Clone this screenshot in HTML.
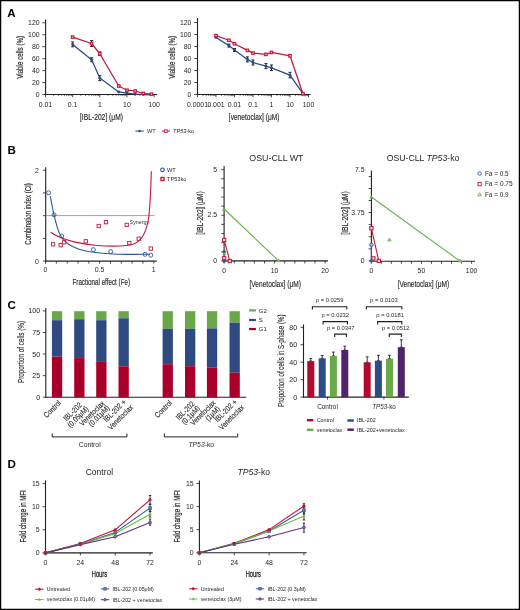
<!DOCTYPE html>
<html><head><meta charset="utf-8"><style>
html,body{margin:0;padding:0;background:#fff;}
svg{display:block;will-change:transform;}
text{font-family:"Liberation Sans",sans-serif;}
</style></head><body>
<svg width="520" height="610" viewBox="0 0 520 610">
<rect x="0.6" y="0.6" width="518.8" height="608.8" fill="#fff" stroke="#000" stroke-width="1.3"/>
<text x="7.30" y="17.40" font-size="11.6" text-anchor="start" fill="#000" font-weight="bold">A</text>
<text x="7.40" y="154.40" font-size="11.6" text-anchor="start" fill="#000" font-weight="bold">B</text>
<text x="7.50" y="308.70" font-size="11.6" text-anchor="start" fill="#000" font-weight="bold">C</text>
<text x="7.40" y="467.80" font-size="11.6" text-anchor="start" fill="#000" font-weight="bold">D</text>
<line x1="45.60" y1="19.40" x2="45.60" y2="95.00" stroke="#231f20" stroke-width="1.1" />
<line x1="45.10" y1="94.50" x2="157.00" y2="94.50" stroke="#231f20" stroke-width="1.1" />
<line x1="42.30" y1="94.50" x2="45.60" y2="94.50" stroke="#231f20" stroke-width="0.8" />
<text x="39.60" y="96.95" font-size="6.9" text-anchor="end" fill="#231f20">0</text>
<line x1="42.30" y1="82.55" x2="45.60" y2="82.55" stroke="#231f20" stroke-width="0.8" />
<text x="39.60" y="85.00" font-size="6.9" text-anchor="end" fill="#231f20">20</text>
<line x1="42.30" y1="70.60" x2="45.60" y2="70.60" stroke="#231f20" stroke-width="0.8" />
<text x="39.60" y="73.05" font-size="6.9" text-anchor="end" fill="#231f20">40</text>
<line x1="42.30" y1="58.65" x2="45.60" y2="58.65" stroke="#231f20" stroke-width="0.8" />
<text x="39.60" y="61.10" font-size="6.9" text-anchor="end" fill="#231f20">60</text>
<line x1="42.30" y1="46.70" x2="45.60" y2="46.70" stroke="#231f20" stroke-width="0.8" />
<text x="39.60" y="49.15" font-size="6.9" text-anchor="end" fill="#231f20">80</text>
<line x1="42.30" y1="34.75" x2="45.60" y2="34.75" stroke="#231f20" stroke-width="0.8" />
<text x="39.60" y="37.20" font-size="6.9" text-anchor="end" fill="#231f20">100</text>
<line x1="42.30" y1="22.80" x2="45.60" y2="22.80" stroke="#231f20" stroke-width="0.8" />
<text x="39.60" y="25.25" font-size="6.9" text-anchor="end" fill="#231f20">120</text>
<line x1="45.50" y1="94.50" x2="45.50" y2="97.30" stroke="#231f20" stroke-width="0.8" />
<text x="45.50" y="106.60" font-size="6.9" text-anchor="middle" fill="#231f20">0.01</text>
<line x1="53.67" y1="94.50" x2="53.67" y2="96.10" stroke="#231f20" stroke-width="0.6" />
<line x1="58.45" y1="94.50" x2="58.45" y2="96.10" stroke="#231f20" stroke-width="0.6" />
<line x1="61.85" y1="94.50" x2="61.85" y2="96.10" stroke="#231f20" stroke-width="0.6" />
<line x1="64.48" y1="94.50" x2="64.48" y2="96.10" stroke="#231f20" stroke-width="0.6" />
<line x1="66.63" y1="94.50" x2="66.63" y2="96.10" stroke="#231f20" stroke-width="0.6" />
<line x1="68.44" y1="94.50" x2="68.44" y2="96.10" stroke="#231f20" stroke-width="0.6" />
<line x1="70.02" y1="94.50" x2="70.02" y2="96.10" stroke="#231f20" stroke-width="0.6" />
<line x1="71.41" y1="94.50" x2="71.41" y2="96.10" stroke="#231f20" stroke-width="0.6" />
<line x1="72.65" y1="94.50" x2="72.65" y2="97.30" stroke="#231f20" stroke-width="0.8" />
<text x="72.65" y="106.60" font-size="6.9" text-anchor="middle" fill="#231f20">0.1</text>
<line x1="80.82" y1="94.50" x2="80.82" y2="96.10" stroke="#231f20" stroke-width="0.6" />
<line x1="85.60" y1="94.50" x2="85.60" y2="96.10" stroke="#231f20" stroke-width="0.6" />
<line x1="89.00" y1="94.50" x2="89.00" y2="96.10" stroke="#231f20" stroke-width="0.6" />
<line x1="91.63" y1="94.50" x2="91.63" y2="96.10" stroke="#231f20" stroke-width="0.6" />
<line x1="93.78" y1="94.50" x2="93.78" y2="96.10" stroke="#231f20" stroke-width="0.6" />
<line x1="95.59" y1="94.50" x2="95.59" y2="96.10" stroke="#231f20" stroke-width="0.6" />
<line x1="97.17" y1="94.50" x2="97.17" y2="96.10" stroke="#231f20" stroke-width="0.6" />
<line x1="98.56" y1="94.50" x2="98.56" y2="96.10" stroke="#231f20" stroke-width="0.6" />
<line x1="99.80" y1="94.50" x2="99.80" y2="97.30" stroke="#231f20" stroke-width="0.8" />
<text x="99.80" y="106.60" font-size="6.9" text-anchor="middle" fill="#231f20">1</text>
<line x1="107.97" y1="94.50" x2="107.97" y2="96.10" stroke="#231f20" stroke-width="0.6" />
<line x1="112.75" y1="94.50" x2="112.75" y2="96.10" stroke="#231f20" stroke-width="0.6" />
<line x1="116.15" y1="94.50" x2="116.15" y2="96.10" stroke="#231f20" stroke-width="0.6" />
<line x1="118.78" y1="94.50" x2="118.78" y2="96.10" stroke="#231f20" stroke-width="0.6" />
<line x1="120.93" y1="94.50" x2="120.93" y2="96.10" stroke="#231f20" stroke-width="0.6" />
<line x1="122.74" y1="94.50" x2="122.74" y2="96.10" stroke="#231f20" stroke-width="0.6" />
<line x1="124.32" y1="94.50" x2="124.32" y2="96.10" stroke="#231f20" stroke-width="0.6" />
<line x1="125.71" y1="94.50" x2="125.71" y2="96.10" stroke="#231f20" stroke-width="0.6" />
<line x1="126.95" y1="94.50" x2="126.95" y2="97.30" stroke="#231f20" stroke-width="0.8" />
<text x="126.95" y="106.60" font-size="6.9" text-anchor="middle" fill="#231f20">10</text>
<line x1="135.12" y1="94.50" x2="135.12" y2="96.10" stroke="#231f20" stroke-width="0.6" />
<line x1="139.90" y1="94.50" x2="139.90" y2="96.10" stroke="#231f20" stroke-width="0.6" />
<line x1="143.30" y1="94.50" x2="143.30" y2="96.10" stroke="#231f20" stroke-width="0.6" />
<line x1="145.93" y1="94.50" x2="145.93" y2="96.10" stroke="#231f20" stroke-width="0.6" />
<line x1="148.08" y1="94.50" x2="148.08" y2="96.10" stroke="#231f20" stroke-width="0.6" />
<line x1="149.89" y1="94.50" x2="149.89" y2="96.10" stroke="#231f20" stroke-width="0.6" />
<line x1="151.47" y1="94.50" x2="151.47" y2="96.10" stroke="#231f20" stroke-width="0.6" />
<line x1="152.86" y1="94.50" x2="152.86" y2="96.10" stroke="#231f20" stroke-width="0.6" />
<line x1="154.10" y1="94.50" x2="154.10" y2="97.30" stroke="#231f20" stroke-width="0.8" />
<text x="154.10" y="106.60" font-size="6.9" text-anchor="middle" fill="#231f20">100</text>
<text x="101.50" y="119.50" font-size="9" text-anchor="middle" fill="#231f20" stroke="#231f20" stroke-width="0.15" textLength="43" lengthAdjust="spacingAndGlyphs">[IBL-202] (&#956;M)</text>
<text x="23.40" y="57.30" font-size="9" text-anchor="middle" fill="#231f20" stroke="#231f20" stroke-width="0.15" textLength="43" lengthAdjust="spacingAndGlyphs" transform="rotate(-90 23.40 57.30)">Viable cells (%)</text>
<line x1="72.65" y1="42.00" x2="72.65" y2="46.80" stroke="#231f20" stroke-width="1.0" />
<line x1="71.15" y1="42.00" x2="74.15" y2="42.00" stroke="#231f20" stroke-width="1.0" />
<line x1="71.15" y1="46.80" x2="74.15" y2="46.80" stroke="#231f20" stroke-width="1.0" />
<line x1="91.63" y1="57.75" x2="91.63" y2="61.75" stroke="#231f20" stroke-width="1.0" />
<line x1="90.13" y1="57.75" x2="93.13" y2="57.75" stroke="#231f20" stroke-width="1.0" />
<line x1="90.13" y1="61.75" x2="93.13" y2="61.75" stroke="#231f20" stroke-width="1.0" />
<line x1="99.80" y1="75.60" x2="99.80" y2="80.60" stroke="#231f20" stroke-width="1.0" />
<line x1="98.30" y1="75.60" x2="101.30" y2="75.60" stroke="#231f20" stroke-width="1.0" />
<line x1="98.30" y1="80.60" x2="101.30" y2="80.60" stroke="#231f20" stroke-width="1.0" />
<line x1="91.63" y1="40.50" x2="91.63" y2="46.50" stroke="#231f20" stroke-width="1.0" />
<line x1="90.13" y1="40.50" x2="93.13" y2="40.50" stroke="#231f20" stroke-width="1.0" />
<line x1="90.13" y1="46.50" x2="93.13" y2="46.50" stroke="#231f20" stroke-width="1.0" />
<line x1="99.80" y1="51.95" x2="99.80" y2="55.55" stroke="#231f20" stroke-width="1.0" />
<line x1="98.30" y1="51.95" x2="101.30" y2="51.95" stroke="#231f20" stroke-width="1.0" />
<line x1="98.30" y1="55.55" x2="101.30" y2="55.55" stroke="#231f20" stroke-width="1.0" />
<polyline points="72.65,44.40 91.63,59.75 99.80,78.10 118.78,91.90 126.95,93.10 135.12,94.00 143.30,94.30 151.47,94.40" fill="none" stroke="#2a4a8c" stroke-width="1.25" stroke-linejoin="round"/>
<polyline points="72.65,37.10 91.63,43.50 99.80,53.75 118.78,86.00 126.95,90.20 135.12,91.00 143.30,93.40 151.47,94.20" fill="none" stroke="#c4173b" stroke-width="1.25" stroke-linejoin="round"/>
<circle cx="72.65" cy="44.40" r="1.2" fill="#2a4a8c" stroke="#2a4a8c" stroke-width="0.6"/>
<circle cx="91.63" cy="59.75" r="1.2" fill="#2a4a8c" stroke="#2a4a8c" stroke-width="0.6"/>
<circle cx="99.80" cy="78.10" r="1.2" fill="#2a4a8c" stroke="#2a4a8c" stroke-width="0.6"/>
<circle cx="118.78" cy="91.90" r="1.2" fill="#2a4a8c" stroke="#2a4a8c" stroke-width="0.6"/>
<circle cx="126.95" cy="93.10" r="1.2" fill="#2a4a8c" stroke="#2a4a8c" stroke-width="0.6"/>
<circle cx="135.12" cy="94.00" r="1.2" fill="#2a4a8c" stroke="#2a4a8c" stroke-width="0.6"/>
<circle cx="143.30" cy="94.30" r="1.2" fill="#2a4a8c" stroke="#2a4a8c" stroke-width="0.6"/>
<circle cx="151.47" cy="94.40" r="1.2" fill="#2a4a8c" stroke="#2a4a8c" stroke-width="0.6"/>
<rect x="71.40" y="35.85" width="2.5" height="2.5" fill="#f4c8d0" stroke="#c4173b" stroke-width="1.15"/>
<rect x="90.38" y="42.25" width="2.5" height="2.5" fill="#f4c8d0" stroke="#c4173b" stroke-width="1.15"/>
<rect x="98.55" y="52.50" width="2.5" height="2.5" fill="#f4c8d0" stroke="#c4173b" stroke-width="1.15"/>
<rect x="117.53" y="84.75" width="2.5" height="2.5" fill="#f4c8d0" stroke="#c4173b" stroke-width="1.15"/>
<rect x="125.70" y="88.95" width="2.5" height="2.5" fill="#f4c8d0" stroke="#c4173b" stroke-width="1.15"/>
<rect x="133.87" y="89.75" width="2.5" height="2.5" fill="#f4c8d0" stroke="#c4173b" stroke-width="1.15"/>
<rect x="142.05" y="92.15" width="2.5" height="2.5" fill="#f4c8d0" stroke="#c4173b" stroke-width="1.15"/>
<rect x="150.22" y="92.95" width="2.5" height="2.5" fill="#f4c8d0" stroke="#c4173b" stroke-width="1.15"/>
<line x1="197.50" y1="18.00" x2="197.50" y2="95.00" stroke="#231f20" stroke-width="1.1" />
<line x1="197.00" y1="94.50" x2="310.60" y2="94.50" stroke="#231f20" stroke-width="1.1" />
<line x1="194.20" y1="94.50" x2="197.50" y2="94.50" stroke="#231f20" stroke-width="0.8" />
<text x="191.40" y="96.95" font-size="6.9" text-anchor="end" fill="#231f20">0</text>
<line x1="194.20" y1="82.50" x2="197.50" y2="82.50" stroke="#231f20" stroke-width="0.8" />
<text x="191.40" y="84.95" font-size="6.9" text-anchor="end" fill="#231f20">20</text>
<line x1="194.20" y1="70.50" x2="197.50" y2="70.50" stroke="#231f20" stroke-width="0.8" />
<text x="191.40" y="72.95" font-size="6.9" text-anchor="end" fill="#231f20">40</text>
<line x1="194.20" y1="58.50" x2="197.50" y2="58.50" stroke="#231f20" stroke-width="0.8" />
<text x="191.40" y="60.95" font-size="6.9" text-anchor="end" fill="#231f20">60</text>
<line x1="194.20" y1="46.50" x2="197.50" y2="46.50" stroke="#231f20" stroke-width="0.8" />
<text x="191.40" y="48.95" font-size="6.9" text-anchor="end" fill="#231f20">80</text>
<line x1="194.20" y1="34.50" x2="197.50" y2="34.50" stroke="#231f20" stroke-width="0.8" />
<text x="191.40" y="36.95" font-size="6.9" text-anchor="end" fill="#231f20">100</text>
<line x1="194.20" y1="22.50" x2="197.50" y2="22.50" stroke="#231f20" stroke-width="0.8" />
<text x="191.40" y="24.95" font-size="6.9" text-anchor="end" fill="#231f20">120</text>
<line x1="197.50" y1="94.50" x2="197.50" y2="97.30" stroke="#231f20" stroke-width="0.8" />
<text x="197.50" y="106.60" font-size="6.9" text-anchor="middle" fill="#231f20">0.0001</text>
<line x1="203.07" y1="94.50" x2="203.07" y2="96.10" stroke="#231f20" stroke-width="0.6" />
<line x1="206.33" y1="94.50" x2="206.33" y2="96.10" stroke="#231f20" stroke-width="0.6" />
<line x1="208.64" y1="94.50" x2="208.64" y2="96.10" stroke="#231f20" stroke-width="0.6" />
<line x1="210.43" y1="94.50" x2="210.43" y2="96.10" stroke="#231f20" stroke-width="0.6" />
<line x1="211.90" y1="94.50" x2="211.90" y2="96.10" stroke="#231f20" stroke-width="0.6" />
<line x1="213.13" y1="94.50" x2="213.13" y2="96.10" stroke="#231f20" stroke-width="0.6" />
<line x1="214.21" y1="94.50" x2="214.21" y2="96.10" stroke="#231f20" stroke-width="0.6" />
<line x1="215.15" y1="94.50" x2="215.15" y2="96.10" stroke="#231f20" stroke-width="0.6" />
<line x1="216.00" y1="94.50" x2="216.00" y2="97.30" stroke="#231f20" stroke-width="0.8" />
<text x="216.00" y="106.60" font-size="6.9" text-anchor="middle" fill="#231f20">0.001</text>
<line x1="221.57" y1="94.50" x2="221.57" y2="96.10" stroke="#231f20" stroke-width="0.6" />
<line x1="224.83" y1="94.50" x2="224.83" y2="96.10" stroke="#231f20" stroke-width="0.6" />
<line x1="227.14" y1="94.50" x2="227.14" y2="96.10" stroke="#231f20" stroke-width="0.6" />
<line x1="228.93" y1="94.50" x2="228.93" y2="96.10" stroke="#231f20" stroke-width="0.6" />
<line x1="230.40" y1="94.50" x2="230.40" y2="96.10" stroke="#231f20" stroke-width="0.6" />
<line x1="231.63" y1="94.50" x2="231.63" y2="96.10" stroke="#231f20" stroke-width="0.6" />
<line x1="232.71" y1="94.50" x2="232.71" y2="96.10" stroke="#231f20" stroke-width="0.6" />
<line x1="233.65" y1="94.50" x2="233.65" y2="96.10" stroke="#231f20" stroke-width="0.6" />
<line x1="234.50" y1="94.50" x2="234.50" y2="97.30" stroke="#231f20" stroke-width="0.8" />
<text x="234.50" y="106.60" font-size="6.9" text-anchor="middle" fill="#231f20">0.01</text>
<line x1="240.07" y1="94.50" x2="240.07" y2="96.10" stroke="#231f20" stroke-width="0.6" />
<line x1="243.33" y1="94.50" x2="243.33" y2="96.10" stroke="#231f20" stroke-width="0.6" />
<line x1="245.64" y1="94.50" x2="245.64" y2="96.10" stroke="#231f20" stroke-width="0.6" />
<line x1="247.43" y1="94.50" x2="247.43" y2="96.10" stroke="#231f20" stroke-width="0.6" />
<line x1="248.90" y1="94.50" x2="248.90" y2="96.10" stroke="#231f20" stroke-width="0.6" />
<line x1="250.13" y1="94.50" x2="250.13" y2="96.10" stroke="#231f20" stroke-width="0.6" />
<line x1="251.21" y1="94.50" x2="251.21" y2="96.10" stroke="#231f20" stroke-width="0.6" />
<line x1="252.15" y1="94.50" x2="252.15" y2="96.10" stroke="#231f20" stroke-width="0.6" />
<line x1="253.00" y1="94.50" x2="253.00" y2="97.30" stroke="#231f20" stroke-width="0.8" />
<text x="253.00" y="106.60" font-size="6.9" text-anchor="middle" fill="#231f20">0.1</text>
<line x1="258.57" y1="94.50" x2="258.57" y2="96.10" stroke="#231f20" stroke-width="0.6" />
<line x1="261.83" y1="94.50" x2="261.83" y2="96.10" stroke="#231f20" stroke-width="0.6" />
<line x1="264.14" y1="94.50" x2="264.14" y2="96.10" stroke="#231f20" stroke-width="0.6" />
<line x1="265.93" y1="94.50" x2="265.93" y2="96.10" stroke="#231f20" stroke-width="0.6" />
<line x1="267.40" y1="94.50" x2="267.40" y2="96.10" stroke="#231f20" stroke-width="0.6" />
<line x1="268.63" y1="94.50" x2="268.63" y2="96.10" stroke="#231f20" stroke-width="0.6" />
<line x1="269.71" y1="94.50" x2="269.71" y2="96.10" stroke="#231f20" stroke-width="0.6" />
<line x1="270.65" y1="94.50" x2="270.65" y2="96.10" stroke="#231f20" stroke-width="0.6" />
<line x1="271.50" y1="94.50" x2="271.50" y2="97.30" stroke="#231f20" stroke-width="0.8" />
<text x="271.50" y="106.60" font-size="6.9" text-anchor="middle" fill="#231f20">1</text>
<line x1="277.07" y1="94.50" x2="277.07" y2="96.10" stroke="#231f20" stroke-width="0.6" />
<line x1="280.33" y1="94.50" x2="280.33" y2="96.10" stroke="#231f20" stroke-width="0.6" />
<line x1="282.64" y1="94.50" x2="282.64" y2="96.10" stroke="#231f20" stroke-width="0.6" />
<line x1="284.43" y1="94.50" x2="284.43" y2="96.10" stroke="#231f20" stroke-width="0.6" />
<line x1="285.90" y1="94.50" x2="285.90" y2="96.10" stroke="#231f20" stroke-width="0.6" />
<line x1="287.13" y1="94.50" x2="287.13" y2="96.10" stroke="#231f20" stroke-width="0.6" />
<line x1="288.21" y1="94.50" x2="288.21" y2="96.10" stroke="#231f20" stroke-width="0.6" />
<line x1="289.15" y1="94.50" x2="289.15" y2="96.10" stroke="#231f20" stroke-width="0.6" />
<line x1="290.00" y1="94.50" x2="290.00" y2="97.30" stroke="#231f20" stroke-width="0.8" />
<text x="290.00" y="106.60" font-size="6.9" text-anchor="middle" fill="#231f20">10</text>
<line x1="295.57" y1="94.50" x2="295.57" y2="96.10" stroke="#231f20" stroke-width="0.6" />
<line x1="298.83" y1="94.50" x2="298.83" y2="96.10" stroke="#231f20" stroke-width="0.6" />
<line x1="301.14" y1="94.50" x2="301.14" y2="96.10" stroke="#231f20" stroke-width="0.6" />
<line x1="302.93" y1="94.50" x2="302.93" y2="96.10" stroke="#231f20" stroke-width="0.6" />
<line x1="304.40" y1="94.50" x2="304.40" y2="96.10" stroke="#231f20" stroke-width="0.6" />
<line x1="305.63" y1="94.50" x2="305.63" y2="96.10" stroke="#231f20" stroke-width="0.6" />
<line x1="306.71" y1="94.50" x2="306.71" y2="96.10" stroke="#231f20" stroke-width="0.6" />
<line x1="307.65" y1="94.50" x2="307.65" y2="96.10" stroke="#231f20" stroke-width="0.6" />
<line x1="308.50" y1="94.50" x2="308.50" y2="97.30" stroke="#231f20" stroke-width="0.8" />
<text x="308.50" y="106.60" font-size="6.9" text-anchor="middle" fill="#231f20">100</text>
<text x="254.10" y="119.50" font-size="9" text-anchor="middle" fill="#231f20" stroke="#231f20" stroke-width="0.15" textLength="50.5" lengthAdjust="spacingAndGlyphs">[venetoclax] (&#956;M)</text>
<text x="175.20" y="57.30" font-size="9" text-anchor="middle" fill="#231f20" stroke="#231f20" stroke-width="0.15" textLength="43" lengthAdjust="spacingAndGlyphs" transform="rotate(-90 175.20 57.30)">Viable cells (%)</text>
<line x1="228.93" y1="44.10" x2="228.93" y2="47.10" stroke="#231f20" stroke-width="1.0" />
<line x1="227.43" y1="44.10" x2="230.43" y2="44.10" stroke="#231f20" stroke-width="1.0" />
<line x1="227.43" y1="47.10" x2="230.43" y2="47.10" stroke="#231f20" stroke-width="1.0" />
<line x1="234.50" y1="48.50" x2="234.50" y2="51.50" stroke="#231f20" stroke-width="1.0" />
<line x1="233.00" y1="48.50" x2="236.00" y2="48.50" stroke="#231f20" stroke-width="1.0" />
<line x1="233.00" y1="51.50" x2="236.00" y2="51.50" stroke="#231f20" stroke-width="1.0" />
<line x1="247.43" y1="56.90" x2="247.43" y2="61.90" stroke="#231f20" stroke-width="1.0" />
<line x1="245.93" y1="56.90" x2="248.93" y2="56.90" stroke="#231f20" stroke-width="1.0" />
<line x1="245.93" y1="61.90" x2="248.93" y2="61.90" stroke="#231f20" stroke-width="1.0" />
<line x1="253.00" y1="60.00" x2="253.00" y2="65.00" stroke="#231f20" stroke-width="1.0" />
<line x1="251.50" y1="60.00" x2="254.50" y2="60.00" stroke="#231f20" stroke-width="1.0" />
<line x1="251.50" y1="65.00" x2="254.50" y2="65.00" stroke="#231f20" stroke-width="1.0" />
<line x1="265.93" y1="63.60" x2="265.93" y2="68.60" stroke="#231f20" stroke-width="1.0" />
<line x1="264.43" y1="63.60" x2="267.43" y2="63.60" stroke="#231f20" stroke-width="1.0" />
<line x1="264.43" y1="68.60" x2="267.43" y2="68.60" stroke="#231f20" stroke-width="1.0" />
<line x1="271.50" y1="65.00" x2="271.50" y2="70.60" stroke="#231f20" stroke-width="1.0" />
<line x1="270.00" y1="65.00" x2="273.00" y2="65.00" stroke="#231f20" stroke-width="1.0" />
<line x1="270.00" y1="70.60" x2="273.00" y2="70.60" stroke="#231f20" stroke-width="1.0" />
<line x1="290.00" y1="72.30" x2="290.00" y2="77.90" stroke="#231f20" stroke-width="1.0" />
<line x1="288.50" y1="72.30" x2="291.50" y2="72.30" stroke="#231f20" stroke-width="1.0" />
<line x1="288.50" y1="77.90" x2="291.50" y2="77.90" stroke="#231f20" stroke-width="1.0" />
<polyline points="216.00,37.50 228.93,45.60 234.50,50.00 247.43,59.40 253.00,62.50 265.93,66.10 271.50,67.80 290.00,75.10 302.93,93.70" fill="none" stroke="#2a4a8c" stroke-width="1.25" stroke-linejoin="round"/>
<polyline points="216.00,35.60 228.93,40.25 234.50,43.75 247.43,50.40 253.00,53.10 265.93,54.40 271.50,52.40 290.00,55.80 302.93,93.70" fill="none" stroke="#c4173b" stroke-width="1.25" stroke-linejoin="round"/>
<circle cx="216.00" cy="37.50" r="1.2" fill="#2a4a8c" stroke="#2a4a8c" stroke-width="0.6"/>
<circle cx="228.93" cy="45.60" r="1.2" fill="#2a4a8c" stroke="#2a4a8c" stroke-width="0.6"/>
<circle cx="234.50" cy="50.00" r="1.2" fill="#2a4a8c" stroke="#2a4a8c" stroke-width="0.6"/>
<circle cx="247.43" cy="59.40" r="1.2" fill="#2a4a8c" stroke="#2a4a8c" stroke-width="0.6"/>
<circle cx="253.00" cy="62.50" r="1.2" fill="#2a4a8c" stroke="#2a4a8c" stroke-width="0.6"/>
<circle cx="265.93" cy="66.10" r="1.2" fill="#2a4a8c" stroke="#2a4a8c" stroke-width="0.6"/>
<circle cx="271.50" cy="67.80" r="1.2" fill="#2a4a8c" stroke="#2a4a8c" stroke-width="0.6"/>
<circle cx="290.00" cy="75.10" r="1.2" fill="#2a4a8c" stroke="#2a4a8c" stroke-width="0.6"/>
<circle cx="302.93" cy="93.70" r="1.2" fill="#2a4a8c" stroke="#2a4a8c" stroke-width="0.6"/>
<rect x="214.75" y="34.35" width="2.5" height="2.5" fill="#f4c8d0" stroke="#c4173b" stroke-width="1.15"/>
<rect x="227.68" y="39.00" width="2.5" height="2.5" fill="#f4c8d0" stroke="#c4173b" stroke-width="1.15"/>
<rect x="233.25" y="42.50" width="2.5" height="2.5" fill="#f4c8d0" stroke="#c4173b" stroke-width="1.15"/>
<rect x="246.18" y="49.15" width="2.5" height="2.5" fill="#f4c8d0" stroke="#c4173b" stroke-width="1.15"/>
<rect x="251.75" y="51.85" width="2.5" height="2.5" fill="#f4c8d0" stroke="#c4173b" stroke-width="1.15"/>
<rect x="264.68" y="53.15" width="2.5" height="2.5" fill="#f4c8d0" stroke="#c4173b" stroke-width="1.15"/>
<rect x="270.25" y="51.15" width="2.5" height="2.5" fill="#f4c8d0" stroke="#c4173b" stroke-width="1.15"/>
<rect x="288.75" y="54.55" width="2.5" height="2.5" fill="#f4c8d0" stroke="#c4173b" stroke-width="1.15"/>
<rect x="301.68" y="92.45" width="2.5" height="2.5" fill="#f4c8d0" stroke="#c4173b" stroke-width="1.15"/>
<line x1="135.40" y1="131.10" x2="143.80" y2="131.10" stroke="#2a4a8c" stroke-width="1.0" />
<circle cx="139.60" cy="131.10" r="1.0" fill="#2a4a8c" stroke="#2a4a8c" stroke-width="0.5"/>
<text x="146.90" y="133.20" font-size="5.6" text-anchor="start" fill="#231f20">WT</text>
<line x1="161.80" y1="131.10" x2="170.00" y2="131.10" stroke="#c4173b" stroke-width="1.0" />
<rect x="164.60" y="129.80" width="2.6" height="2.6" fill="#fff" stroke="#c4173b" stroke-width="0.9"/>
<text x="173.00" y="133.20" font-size="5.6" text-anchor="start" fill="#231f20"><tspan font-style="italic">TP53</tspan>-ko</text>
<line x1="45.70" y1="167.20" x2="45.70" y2="261.60" stroke="#231f20" stroke-width="1.1" />
<line x1="45.20" y1="261.10" x2="156.80" y2="261.10" stroke="#231f20" stroke-width="1.1" />
<line x1="42.90" y1="261.10" x2="45.70" y2="261.10" stroke="#231f20" stroke-width="0.8" />
<line x1="42.90" y1="238.38" x2="45.70" y2="238.38" stroke="#231f20" stroke-width="0.8" />
<line x1="42.90" y1="215.65" x2="45.70" y2="215.65" stroke="#231f20" stroke-width="0.8" />
<line x1="42.90" y1="192.93" x2="45.70" y2="192.93" stroke="#231f20" stroke-width="0.8" />
<line x1="42.90" y1="170.20" x2="45.70" y2="170.20" stroke="#231f20" stroke-width="0.8" />
<text x="38.90" y="263.55" font-size="6.9" text-anchor="end" fill="#231f20">0</text>
<text x="38.90" y="172.65" font-size="6.9" text-anchor="end" fill="#231f20">2</text>
<line x1="45.50" y1="261.10" x2="45.50" y2="263.70" stroke="#231f20" stroke-width="0.8" />
<line x1="56.33" y1="261.10" x2="56.33" y2="263.70" stroke="#231f20" stroke-width="0.8" />
<line x1="67.15" y1="261.10" x2="67.15" y2="263.70" stroke="#231f20" stroke-width="0.8" />
<line x1="77.97" y1="261.10" x2="77.97" y2="263.70" stroke="#231f20" stroke-width="0.8" />
<line x1="88.80" y1="261.10" x2="88.80" y2="263.70" stroke="#231f20" stroke-width="0.8" />
<line x1="99.62" y1="261.10" x2="99.62" y2="263.70" stroke="#231f20" stroke-width="0.8" />
<line x1="110.45" y1="261.10" x2="110.45" y2="263.70" stroke="#231f20" stroke-width="0.8" />
<line x1="121.27" y1="261.10" x2="121.27" y2="263.70" stroke="#231f20" stroke-width="0.8" />
<line x1="132.10" y1="261.10" x2="132.10" y2="263.70" stroke="#231f20" stroke-width="0.8" />
<line x1="142.93" y1="261.10" x2="142.93" y2="263.70" stroke="#231f20" stroke-width="0.8" />
<line x1="153.75" y1="261.10" x2="153.75" y2="263.70" stroke="#231f20" stroke-width="0.8" />
<text x="45.50" y="272.30" font-size="6.9" text-anchor="middle" fill="#231f20">0</text>
<text x="99.62" y="272.30" font-size="6.9" text-anchor="middle" fill="#231f20">0.5</text>
<text x="153.75" y="272.30" font-size="6.9" text-anchor="middle" fill="#231f20">1</text>
<text x="101.25" y="285.20" font-size="9" text-anchor="middle" fill="#231f20" stroke="#231f20" stroke-width="0.15" textLength="57.5" lengthAdjust="spacingAndGlyphs">Fractional effect (Fe)</text>
<text x="30.60" y="214.00" font-size="9" text-anchor="middle" fill="#231f20" stroke="#231f20" stroke-width="0.15" textLength="61.4" lengthAdjust="spacingAndGlyphs" transform="rotate(-90 30.60 214.00)">Combination index (CI)</text>
<line x1="45.70" y1="215.60" x2="154.70" y2="215.60" stroke="#707070" stroke-width="0.65" />
<text x="129.60" y="223.80" font-size="6.1" text-anchor="start" fill="#333" textLength="19.5" lengthAdjust="spacingAndGlyphs">Synergy</text>
<path d="M50.30,196.00 C50.62,197.67 51.58,202.87 52.20,206.00 C52.82,209.13 53.28,211.72 54.00,214.80 C54.72,217.88 55.62,221.48 56.50,224.50 C57.38,227.52 58.13,230.33 59.30,232.90 C60.47,235.47 61.40,237.68 63.50,239.90 C65.60,242.12 68.18,244.35 71.90,246.20 C75.62,248.05 79.45,249.73 85.80,251.00 C92.15,252.27 102.63,253.23 110.00,253.80 C117.37,254.37 123.33,254.33 130.00,254.40 C136.67,254.47 146.67,254.23 150.00,254.20" fill="none" stroke="#2f579c" stroke-width="1.1"/>
<path d="M50.7,232.2 C60,239 75,243 95,245.2 C110,246.5 122,246.8 132,244.5 C142,242 147,232 149,215 C150.5,200 151,185 151.3,171.2" fill="none" stroke="#c4173b" stroke-width="1.1"/>
<circle cx="48.60" cy="192.80" r="2.0" fill="none" stroke="#2f579c" stroke-width="0.9"/>
<circle cx="54.00" cy="214.80" r="2.0" fill="none" stroke="#2f579c" stroke-width="0.9"/>
<circle cx="61.70" cy="236.10" r="2.0" fill="none" stroke="#2f579c" stroke-width="0.9"/>
<circle cx="93.40" cy="249.60" r="2.0" fill="none" stroke="#2f579c" stroke-width="0.9"/>
<circle cx="110.70" cy="251.60" r="2.0" fill="none" stroke="#2f579c" stroke-width="0.9"/>
<circle cx="145.10" cy="254.30" r="2.0" fill="none" stroke="#2f579c" stroke-width="0.9"/>
<circle cx="150.80" cy="255.20" r="2.0" fill="none" stroke="#2f579c" stroke-width="0.9"/>
<rect x="51.45" y="242.65" width="3.3" height="3.3" fill="none" stroke="#c4173b" stroke-width="0.9"/>
<rect x="59.05" y="243.55" width="3.3" height="3.3" fill="none" stroke="#c4173b" stroke-width="0.9"/>
<rect x="62.55" y="240.65" width="3.3" height="3.3" fill="none" stroke="#c4173b" stroke-width="0.9"/>
<rect x="84.15" y="239.65" width="3.3" height="3.3" fill="none" stroke="#c4173b" stroke-width="0.9"/>
<rect x="97.05" y="224.35" width="3.3" height="3.3" fill="none" stroke="#c4173b" stroke-width="0.9"/>
<rect x="104.35" y="220.55" width="3.3" height="3.3" fill="none" stroke="#c4173b" stroke-width="0.9"/>
<rect x="125.05" y="223.25" width="3.3" height="3.3" fill="none" stroke="#c4173b" stroke-width="0.9"/>
<rect x="127.65" y="241.45" width="3.3" height="3.3" fill="none" stroke="#c4173b" stroke-width="0.9"/>
<rect x="137.05" y="237.05" width="3.3" height="3.3" fill="none" stroke="#c4173b" stroke-width="0.9"/>
<rect x="149.15" y="246.95" width="3.3" height="3.3" fill="none" stroke="#c4173b" stroke-width="0.9"/>
<circle cx="162.50" cy="169.80" r="1.8" fill="#fff" stroke="#2f579c" stroke-width="1.15"/>
<text x="167.10" y="171.90" font-size="5.6" text-anchor="start" fill="#231f20">WT</text>
<rect x="160.90" y="177.40" width="3.2" height="3.2" fill="#f4c8d0" stroke="#c4173b" stroke-width="1.2"/>
<text x="167.10" y="181.10" font-size="5.6" text-anchor="start" fill="#231f20">TP53ko</text>
<line x1="224.10" y1="166.10" x2="224.10" y2="261.40" stroke="#231f20" stroke-width="1.1" />
<line x1="223.60" y1="260.90" x2="328.00" y2="260.90" stroke="#231f20" stroke-width="1.15" />
<line x1="221.30" y1="260.90" x2="224.10" y2="260.90" stroke="#231f20" stroke-width="0.8" />
<line x1="221.30" y1="251.77" x2="224.10" y2="251.77" stroke="#231f20" stroke-width="0.8" />
<line x1="221.30" y1="242.65" x2="224.10" y2="242.65" stroke="#231f20" stroke-width="0.8" />
<line x1="221.30" y1="233.52" x2="224.10" y2="233.52" stroke="#231f20" stroke-width="0.8" />
<line x1="221.30" y1="224.40" x2="224.10" y2="224.40" stroke="#231f20" stroke-width="0.8" />
<line x1="221.30" y1="215.27" x2="224.10" y2="215.27" stroke="#231f20" stroke-width="0.8" />
<line x1="221.30" y1="206.15" x2="224.10" y2="206.15" stroke="#231f20" stroke-width="0.8" />
<line x1="221.30" y1="197.02" x2="224.10" y2="197.02" stroke="#231f20" stroke-width="0.8" />
<line x1="221.30" y1="187.90" x2="224.10" y2="187.90" stroke="#231f20" stroke-width="0.8" />
<line x1="221.30" y1="178.77" x2="224.10" y2="178.77" stroke="#231f20" stroke-width="0.8" />
<line x1="221.30" y1="169.65" x2="224.10" y2="169.65" stroke="#231f20" stroke-width="0.8" />
<line x1="224.10" y1="260.90" x2="224.10" y2="263.50" stroke="#231f20" stroke-width="0.8" />
<line x1="234.20" y1="260.90" x2="234.20" y2="263.50" stroke="#231f20" stroke-width="0.8" />
<line x1="244.30" y1="260.90" x2="244.30" y2="263.50" stroke="#231f20" stroke-width="0.8" />
<line x1="254.40" y1="260.90" x2="254.40" y2="263.50" stroke="#231f20" stroke-width="0.8" />
<line x1="264.50" y1="260.90" x2="264.50" y2="263.50" stroke="#231f20" stroke-width="0.8" />
<line x1="274.60" y1="260.90" x2="274.60" y2="263.50" stroke="#231f20" stroke-width="0.8" />
<line x1="284.70" y1="260.90" x2="284.70" y2="263.50" stroke="#231f20" stroke-width="0.8" />
<line x1="294.80" y1="260.90" x2="294.80" y2="263.50" stroke="#231f20" stroke-width="0.8" />
<line x1="304.90" y1="260.90" x2="304.90" y2="263.50" stroke="#231f20" stroke-width="0.8" />
<line x1="315.00" y1="260.90" x2="315.00" y2="263.50" stroke="#231f20" stroke-width="0.8" />
<line x1="325.10" y1="260.90" x2="325.10" y2="263.50" stroke="#231f20" stroke-width="0.8" />
<text x="217.00" y="171.75" font-size="6.9" text-anchor="end" fill="#231f20">5</text>
<text x="217.00" y="217.37" font-size="6.9" text-anchor="end" fill="#231f20">2.5</text>
<text x="217.00" y="263.00" font-size="6.9" text-anchor="end" fill="#231f20">0</text>
<text x="224.10" y="272.80" font-size="6.9" text-anchor="middle" fill="#231f20">0</text>
<text x="274.60" y="272.80" font-size="6.9" text-anchor="middle" fill="#231f20">10</text>
<text x="325.10" y="272.80" font-size="6.9" text-anchor="middle" fill="#231f20">20</text>
<text x="276.40" y="161.20" font-size="8.8" text-anchor="middle" fill="#231f20" textLength="54.2" lengthAdjust="spacingAndGlyphs">OSU-CLL WT</text>
<text x="275.20" y="286.60" font-size="9.6" text-anchor="middle" fill="#231f20" stroke="#231f20" stroke-width="0.15" textLength="51.5" lengthAdjust="spacingAndGlyphs">[Venetoclax] (&#956;M)</text>
<text x="203.30" y="213.00" font-size="9.4" text-anchor="middle" fill="#231f20" stroke="#231f20" stroke-width="0.15" textLength="43.5" lengthAdjust="spacingAndGlyphs" transform="rotate(-90 203.30 213.00)">[IBL-202] (&#956;M)</text>
<line x1="224.10" y1="209.00" x2="278.70" y2="260.90" stroke="#6ab04c" stroke-width="1.1" />
<line x1="224.20" y1="240.00" x2="229.80" y2="261.10" stroke="#c4173b" stroke-width="1.1" />
<line x1="224.20" y1="251.80" x2="224.20" y2="261.00" stroke="#2f579c" stroke-width="1.1" />
<polygon points="224.10,207.54 222.50,210.31 225.70,210.31" fill="#6ab04c" stroke="#6ab04c" stroke-width="0.6" stroke-linejoin="miter"/>
<polygon points="278.70,258.94 277.10,261.71 280.30,261.71" fill="#a8d890" stroke="#6ab04c" stroke-width="0.9" stroke-linejoin="miter"/>
<polygon points="224.20,250.00 226.00,251.80 224.20,253.60 222.40,251.80" fill="#2f579c" stroke="#2f579c" stroke-width="0.8"/>
<polygon points="224.20,252.44 222.70,255.04 225.70,255.04" fill="#6ab04c" stroke="#6ab04c" stroke-width="0.6" stroke-linejoin="miter"/>
<rect x="222.55" y="256.65" width="3.3" height="3.3" fill="#f4c8d0" stroke="#c4173b" stroke-width="1.0"/>
<polygon points="224.20,259.30 226.00,261.10 224.20,262.90 222.40,261.10" fill="#2f579c" stroke="#2f579c" stroke-width="0.8"/>
<rect x="222.55" y="238.35" width="3.3" height="3.3" fill="#f4c8d0" stroke="#c4173b" stroke-width="1.0"/>
<rect x="228.15" y="259.45" width="3.3" height="3.3" fill="#f4c8d0" stroke="#c4173b" stroke-width="1.0"/>
<line x1="371.40" y1="170.40" x2="371.40" y2="261.70" stroke="#231f20" stroke-width="1.1" />
<line x1="370.90" y1="261.20" x2="475.00" y2="261.20" stroke="#231f20" stroke-width="1.15" />
<line x1="368.60" y1="176.60" x2="371.40" y2="176.60" stroke="#231f20" stroke-width="0.8" />
<line x1="368.60" y1="188.50" x2="371.40" y2="188.50" stroke="#231f20" stroke-width="0.8" />
<line x1="368.60" y1="200.50" x2="371.40" y2="200.50" stroke="#231f20" stroke-width="0.8" />
<line x1="368.60" y1="212.50" x2="371.40" y2="212.50" stroke="#231f20" stroke-width="0.8" />
<line x1="368.60" y1="224.60" x2="371.40" y2="224.60" stroke="#231f20" stroke-width="0.8" />
<line x1="368.60" y1="236.80" x2="371.40" y2="236.80" stroke="#231f20" stroke-width="0.8" />
<line x1="368.60" y1="248.80" x2="371.40" y2="248.80" stroke="#231f20" stroke-width="0.8" />
<line x1="368.60" y1="260.90" x2="371.40" y2="260.90" stroke="#231f20" stroke-width="0.8" />
<line x1="371.30" y1="261.20" x2="371.30" y2="263.80" stroke="#231f20" stroke-width="0.8" />
<line x1="381.33" y1="261.20" x2="381.33" y2="263.80" stroke="#231f20" stroke-width="0.8" />
<line x1="391.36" y1="261.20" x2="391.36" y2="263.80" stroke="#231f20" stroke-width="0.8" />
<line x1="401.39" y1="261.20" x2="401.39" y2="263.80" stroke="#231f20" stroke-width="0.8" />
<line x1="411.42" y1="261.20" x2="411.42" y2="263.80" stroke="#231f20" stroke-width="0.8" />
<line x1="421.45" y1="261.20" x2="421.45" y2="263.80" stroke="#231f20" stroke-width="0.8" />
<line x1="431.48" y1="261.20" x2="431.48" y2="263.80" stroke="#231f20" stroke-width="0.8" />
<line x1="441.51" y1="261.20" x2="441.51" y2="263.80" stroke="#231f20" stroke-width="0.8" />
<line x1="451.54" y1="261.20" x2="451.54" y2="263.80" stroke="#231f20" stroke-width="0.8" />
<line x1="461.57" y1="261.20" x2="461.57" y2="263.80" stroke="#231f20" stroke-width="0.8" />
<line x1="471.60" y1="261.20" x2="471.60" y2="263.80" stroke="#231f20" stroke-width="0.8" />
<text x="364.60" y="172.10" font-size="6.9" text-anchor="end" fill="#231f20">7.5</text>
<text x="364.60" y="214.60" font-size="6.9" text-anchor="end" fill="#231f20">3.75</text>
<text x="364.60" y="263.00" font-size="6.9" text-anchor="end" fill="#231f20">0</text>
<text x="371.30" y="272.80" font-size="6.9" text-anchor="middle" fill="#231f20">0</text>
<text x="421.45" y="272.80" font-size="6.9" text-anchor="middle" fill="#231f20">50</text>
<text x="471.60" y="272.80" font-size="6.9" text-anchor="middle" fill="#231f20">100</text>
<text x="423.00" y="161.20" font-size="8.8" text-anchor="middle" fill="#231f20" textLength="72.7" lengthAdjust="spacingAndGlyphs">OSU-CLL <tspan font-style="italic">TP53</tspan>-ko</text>
<text x="423.40" y="286.60" font-size="9.6" text-anchor="middle" fill="#231f20" stroke="#231f20" stroke-width="0.15" textLength="51.5" lengthAdjust="spacingAndGlyphs">[Venetoclax] (&#956;M)</text>
<text x="347.80" y="213.00" font-size="9.4" text-anchor="middle" fill="#231f20" stroke="#231f20" stroke-width="0.15" textLength="43.5" lengthAdjust="spacingAndGlyphs" transform="rotate(-90 347.80 213.00)">[IBL-202] (&#956;M)</text>
<line x1="371.40" y1="197.00" x2="460.20" y2="261.20" stroke="#6ab04c" stroke-width="1.1" />
<line x1="371.40" y1="228.30" x2="378.80" y2="260.90" stroke="#c4173b" stroke-width="1.1" />
<line x1="371.40" y1="244.80" x2="371.40" y2="260.90" stroke="#2f579c" stroke-width="1.1" />
<polygon points="371.40,195.54 369.80,198.31 373.00,198.31" fill="#6ab04c" stroke="#6ab04c" stroke-width="0.6" stroke-linejoin="miter"/>
<polygon points="460.20,259.24 458.60,262.01 461.80,262.01" fill="#a8d890" stroke="#6ab04c" stroke-width="0.9" stroke-linejoin="miter"/>
<polygon points="389.40,238.03 387.70,240.98 391.10,240.98" fill="#a8d890" stroke="#6ab04c" stroke-width="0.8" stroke-linejoin="miter"/>
<rect x="369.75" y="226.65" width="3.3" height="3.3" fill="#f4c8d0" stroke="#c4173b" stroke-width="1.0"/>
<rect x="377.15" y="259.25" width="3.3" height="3.3" fill="#f4c8d0" stroke="#c4173b" stroke-width="1.0"/>
<rect x="371.75" y="256.75" width="3.3" height="3.3" fill="#f4c8d0" stroke="#c4173b" stroke-width="1.0"/>
<circle cx="371.40" cy="244.80" r="1.7" fill="#b8c6e4" stroke="#2f579c" stroke-width="1.0"/>
<polygon points="371.40,259.10 373.20,260.90 371.40,262.70 369.60,260.90" fill="#2f579c" stroke="#2f579c" stroke-width="0.8"/>
<circle cx="479.60" cy="173.50" r="1.75" fill="none" stroke="#2f579c" stroke-width="0.9"/>
<text x="484.90" y="175.70" font-size="6.3" text-anchor="start" fill="#231f20" textLength="23.7" lengthAdjust="spacingAndGlyphs">Fa = 0.5</text>
<rect x="477.95" y="182.45" width="3.3" height="3.3" fill="none" stroke="#c4173b" stroke-width="0.9"/>
<text x="484.90" y="186.30" font-size="6.3" text-anchor="start" fill="#231f20" textLength="27.7" lengthAdjust="spacingAndGlyphs">Fa = 0.75</text>
<polygon points="479.60,192.78 477.85,195.81 481.35,195.81" fill="none" stroke="#6ab04c" stroke-width="0.9" stroke-linejoin="miter"/>
<text x="484.90" y="196.60" font-size="6.3" text-anchor="start" fill="#231f20" textLength="23.7" lengthAdjust="spacingAndGlyphs">Fa = 0.9</text>
<line x1="45.80" y1="308.00" x2="45.80" y2="397.70" stroke="#231f20" stroke-width="1.1" />
<line x1="45.30" y1="397.20" x2="246.20" y2="397.20" stroke="#231f20" stroke-width="1.1" />
<line x1="42.80" y1="397.20" x2="45.80" y2="397.20" stroke="#231f20" stroke-width="0.8" />
<text x="40.20" y="399.70" font-size="7.1" text-anchor="end" fill="#231f20">0</text>
<line x1="42.80" y1="375.64" x2="45.80" y2="375.64" stroke="#231f20" stroke-width="0.8" />
<text x="40.20" y="378.14" font-size="7.1" text-anchor="end" fill="#231f20">25</text>
<line x1="42.80" y1="354.07" x2="45.80" y2="354.07" stroke="#231f20" stroke-width="0.8" />
<text x="40.20" y="356.57" font-size="7.1" text-anchor="end" fill="#231f20">50</text>
<line x1="42.80" y1="332.51" x2="45.80" y2="332.51" stroke="#231f20" stroke-width="0.8" />
<text x="40.20" y="335.01" font-size="7.1" text-anchor="end" fill="#231f20">75</text>
<line x1="42.80" y1="310.95" x2="45.80" y2="310.95" stroke="#231f20" stroke-width="0.8" />
<text x="40.20" y="313.45" font-size="7.1" text-anchor="end" fill="#231f20">100</text>
<rect x="51.90" y="311.20" width="10.30" height="9.00" fill="#6aa746" stroke="none" stroke-width="0"/>
<rect x="51.90" y="320.20" width="10.30" height="36.50" fill="#2e4a80" stroke="none" stroke-width="0"/>
<rect x="51.90" y="356.70" width="10.30" height="40.50" fill="#a8002a" stroke="none" stroke-width="0"/>
<rect x="74.20" y="311.20" width="10.30" height="8.00" fill="#6aa746" stroke="none" stroke-width="0"/>
<rect x="74.20" y="319.20" width="10.30" height="38.90" fill="#2e4a80" stroke="none" stroke-width="0"/>
<rect x="74.20" y="358.10" width="10.30" height="39.10" fill="#a8002a" stroke="none" stroke-width="0"/>
<rect x="96.20" y="311.20" width="10.30" height="9.00" fill="#6aa746" stroke="none" stroke-width="0"/>
<rect x="96.20" y="320.20" width="10.30" height="41.00" fill="#2e4a80" stroke="none" stroke-width="0"/>
<rect x="96.20" y="361.20" width="10.30" height="36.00" fill="#a8002a" stroke="none" stroke-width="0"/>
<rect x="118.50" y="311.20" width="10.30" height="7.10" fill="#6aa746" stroke="none" stroke-width="0"/>
<rect x="118.50" y="318.30" width="10.30" height="48.00" fill="#2e4a80" stroke="none" stroke-width="0"/>
<rect x="118.50" y="366.30" width="10.30" height="30.90" fill="#a8002a" stroke="none" stroke-width="0"/>
<rect x="162.60" y="311.20" width="10.30" height="17.60" fill="#6aa746" stroke="none" stroke-width="0"/>
<rect x="162.60" y="328.80" width="10.30" height="35.40" fill="#2e4a80" stroke="none" stroke-width="0"/>
<rect x="162.60" y="364.20" width="10.30" height="33.00" fill="#a8002a" stroke="none" stroke-width="0"/>
<rect x="185.00" y="311.20" width="10.30" height="17.60" fill="#6aa746" stroke="none" stroke-width="0"/>
<rect x="185.00" y="328.80" width="10.30" height="37.40" fill="#2e4a80" stroke="none" stroke-width="0"/>
<rect x="185.00" y="366.20" width="10.30" height="31.00" fill="#a8002a" stroke="none" stroke-width="0"/>
<rect x="206.90" y="311.20" width="10.30" height="17.20" fill="#6aa746" stroke="none" stroke-width="0"/>
<rect x="206.90" y="328.40" width="10.30" height="39.00" fill="#2e4a80" stroke="none" stroke-width="0"/>
<rect x="206.90" y="367.40" width="10.30" height="29.80" fill="#a8002a" stroke="none" stroke-width="0"/>
<rect x="229.50" y="311.20" width="10.30" height="11.40" fill="#6aa746" stroke="none" stroke-width="0"/>
<rect x="229.50" y="322.60" width="10.30" height="50.10" fill="#2e4a80" stroke="none" stroke-width="0"/>
<rect x="229.50" y="372.70" width="10.30" height="24.50" fill="#a8002a" stroke="none" stroke-width="0"/>
<text x="23.60" y="352.00" font-size="9" text-anchor="middle" fill="#231f20" stroke="#231f20" stroke-width="0.12" textLength="62" lengthAdjust="spacingAndGlyphs" transform="rotate(-90 23.60 352.00)">Proportion of cells (%)</text>
<rect x="249.10" y="309.30" width="6.80" height="2.20" fill="#6aa746" stroke="none" stroke-width="0"/>
<text x="258.80" y="312.50" font-size="6.0" text-anchor="start" fill="#231f20">G2</text>
<rect x="249.10" y="318.90" width="6.80" height="2.20" fill="#2e4a80" stroke="none" stroke-width="0"/>
<text x="258.80" y="322.10" font-size="6.0" text-anchor="start" fill="#231f20">S</text>
<rect x="249.10" y="327.90" width="6.80" height="2.20" fill="#a8002a" stroke="none" stroke-width="0"/>
<text x="258.80" y="331.10" font-size="6.0" text-anchor="start" fill="#231f20">G1</text>
<text x="61.60" y="403.50" font-size="7.8" text-anchor="end" fill="#231f20" stroke="#231f20" stroke-width="0.12" textLength="20.95" lengthAdjust="spacingAndGlyphs" transform="rotate(-45 61.60 403.50)">Control</text>
<text x="82.60" y="405.50" font-size="7.8" text-anchor="end" fill="#231f20" stroke="#231f20" stroke-width="0.12" textLength="22.76" lengthAdjust="spacingAndGlyphs" transform="rotate(-45 82.60 405.50)">IBL-202</text>
<text x="89.10" y="409.50" font-size="7.8" text-anchor="end" fill="#231f20" stroke="#231f20" stroke-width="0.12" textLength="26.14" lengthAdjust="spacingAndGlyphs" transform="rotate(-45 89.10 409.50)">(0.05&#956;M)</text>
<text x="105.10" y="404.00" font-size="7.8" text-anchor="end" fill="#231f20" stroke="#231f20" stroke-width="0.12" textLength="31.8" lengthAdjust="spacingAndGlyphs" transform="rotate(-45 105.10 404.00)">Venetoclax</text>
<text x="110.10" y="408.50" font-size="7.8" text-anchor="end" fill="#231f20" stroke="#231f20" stroke-width="0.12" textLength="26.14" lengthAdjust="spacingAndGlyphs" transform="rotate(-45 110.10 408.50)">(0.01&#956;M)</text>
<text x="126.60" y="402.50" font-size="7.8" text-anchor="end" fill="#231f20" stroke="#231f20" stroke-width="0.12" textLength="28.37" lengthAdjust="spacingAndGlyphs" transform="rotate(-45 126.60 402.50)">IBL-202 +</text>
<text x="133.60" y="408.00" font-size="7.8" text-anchor="end" fill="#231f20" stroke="#231f20" stroke-width="0.12" textLength="31.8" lengthAdjust="spacingAndGlyphs" transform="rotate(-45 133.60 408.00)">Venetoclax</text>
<text x="172.60" y="403.50" font-size="7.8" text-anchor="end" fill="#231f20" stroke="#231f20" stroke-width="0.12" textLength="20.95" lengthAdjust="spacingAndGlyphs" transform="rotate(-45 172.60 403.50)">Control</text>
<text x="195.10" y="404.50" font-size="7.8" text-anchor="end" fill="#231f20" stroke="#231f20" stroke-width="0.12" textLength="22.76" lengthAdjust="spacingAndGlyphs" transform="rotate(-45 195.10 404.50)">IBL-202</text>
<text x="200.60" y="409.00" font-size="7.8" text-anchor="end" fill="#231f20" stroke="#231f20" stroke-width="0.12" textLength="22.52" lengthAdjust="spacingAndGlyphs" transform="rotate(-45 200.60 409.00)">(0.1&#956;M)</text>
<text x="216.10" y="403.50" font-size="7.8" text-anchor="end" fill="#231f20" stroke="#231f20" stroke-width="0.12" textLength="31.8" lengthAdjust="spacingAndGlyphs" transform="rotate(-45 216.10 403.50)">Venetoclax</text>
<text x="220.60" y="409.50" font-size="7.8" text-anchor="end" fill="#231f20" stroke="#231f20" stroke-width="0.12" textLength="17.1" lengthAdjust="spacingAndGlyphs" transform="rotate(-45 220.60 409.50)">(1&#956;M)</text>
<text x="237.60" y="402.50" font-size="7.8" text-anchor="end" fill="#231f20" stroke="#231f20" stroke-width="0.12" textLength="28.37" lengthAdjust="spacingAndGlyphs" transform="rotate(-45 237.60 402.50)">IBL-202 +</text>
<text x="244.60" y="408.00" font-size="7.8" text-anchor="end" fill="#231f20" stroke="#231f20" stroke-width="0.12" textLength="31.8" lengthAdjust="spacingAndGlyphs" transform="rotate(-45 244.60 408.00)">Venetoclax</text>
<polyline points="52.2,433.5 52.2,436.9 126.9,436.9 126.9,433.5" fill="none" stroke="#231f20" stroke-width="1"/>
<polyline points="164.3,433.5 164.3,436.9 237.7,436.9 237.7,433.5" fill="none" stroke="#231f20" stroke-width="1"/>
<text x="89.70" y="446.60" font-size="6.8" text-anchor="middle" fill="#231f20">Control</text>
<text x="201.30" y="446.60" font-size="6.8" text-anchor="middle" fill="#231f20"><tspan font-style="italic">TP53</tspan>-ko</text>
<line x1="303.50" y1="324.50" x2="303.50" y2="397.60" stroke="#231f20" stroke-width="1.1" />
<line x1="303.00" y1="397.10" x2="408.80" y2="397.10" stroke="#231f20" stroke-width="1.1" />
<line x1="300.50" y1="397.10" x2="303.50" y2="397.10" stroke="#231f20" stroke-width="0.8" />
<text x="297.20" y="399.60" font-size="7.1" text-anchor="end" fill="#231f20">0</text>
<line x1="300.50" y1="379.65" x2="303.50" y2="379.65" stroke="#231f20" stroke-width="0.8" />
<text x="297.20" y="382.15" font-size="7.1" text-anchor="end" fill="#231f20">20</text>
<line x1="300.50" y1="362.20" x2="303.50" y2="362.20" stroke="#231f20" stroke-width="0.8" />
<text x="297.20" y="364.70" font-size="7.1" text-anchor="end" fill="#231f20">40</text>
<line x1="300.50" y1="344.75" x2="303.50" y2="344.75" stroke="#231f20" stroke-width="0.8" />
<text x="297.20" y="347.25" font-size="7.1" text-anchor="end" fill="#231f20">60</text>
<line x1="300.50" y1="327.30" x2="303.50" y2="327.30" stroke="#231f20" stroke-width="0.8" />
<text x="297.20" y="329.80" font-size="7.1" text-anchor="end" fill="#231f20">80</text>
<line x1="327.50" y1="397.10" x2="327.50" y2="399.60" stroke="#231f20" stroke-width="0.8" />
<line x1="383.90" y1="397.10" x2="383.90" y2="399.60" stroke="#231f20" stroke-width="0.8" />
<text x="327.50" y="409.40" font-size="7.4" text-anchor="middle" fill="#231f20" textLength="20.7" lengthAdjust="spacingAndGlyphs">Control</text>
<text x="384.00" y="409.40" font-size="7.4" text-anchor="middle" fill="#231f20" textLength="23.5" lengthAdjust="spacingAndGlyphs"><tspan font-style="italic">TP53</tspan>-ko</text>
<text x="284.30" y="360.70" font-size="9.8" text-anchor="middle" fill="#231f20" stroke="#231f20" stroke-width="0.12" textLength="92.5" lengthAdjust="spacingAndGlyphs" transform="rotate(-90 284.30 360.70)">Proportion of cells in S-phase (%)</text>
<line x1="310.80" y1="358.40" x2="310.80" y2="361.10" stroke="#231f20" stroke-width="0.9" />
<line x1="309.40" y1="358.40" x2="312.20" y2="358.40" stroke="#231f20" stroke-width="0.9" />
<line x1="309.40" y1="361.10" x2="312.20" y2="361.10" stroke="#231f20" stroke-width="0.9" />
<rect x="307.30" y="361.10" width="7.00" height="36.00" fill="#b00a2e" stroke="none" stroke-width="0"/>
<line x1="322.20" y1="355.60" x2="322.20" y2="358.40" stroke="#231f20" stroke-width="0.9" />
<line x1="320.80" y1="355.60" x2="323.60" y2="355.60" stroke="#231f20" stroke-width="0.9" />
<line x1="320.80" y1="358.40" x2="323.60" y2="358.40" stroke="#231f20" stroke-width="0.9" />
<rect x="318.70" y="358.40" width="7.00" height="38.70" fill="#2c4b87" stroke="none" stroke-width="0"/>
<line x1="333.40" y1="352.10" x2="333.40" y2="356.00" stroke="#231f20" stroke-width="0.9" />
<line x1="332.00" y1="352.10" x2="334.80" y2="352.10" stroke="#231f20" stroke-width="0.9" />
<line x1="332.00" y1="356.00" x2="334.80" y2="356.00" stroke="#231f20" stroke-width="0.9" />
<rect x="329.90" y="356.00" width="7.00" height="41.10" fill="#6aaa46" stroke="none" stroke-width="0"/>
<line x1="344.80" y1="346.20" x2="344.80" y2="350.00" stroke="#231f20" stroke-width="0.9" />
<line x1="343.40" y1="346.20" x2="346.20" y2="346.20" stroke="#231f20" stroke-width="0.9" />
<line x1="343.40" y1="350.00" x2="346.20" y2="350.00" stroke="#231f20" stroke-width="0.9" />
<rect x="341.30" y="350.00" width="7.00" height="47.10" fill="#4f2468" stroke="none" stroke-width="0"/>
<line x1="367.20" y1="356.90" x2="367.20" y2="362.30" stroke="#231f20" stroke-width="0.9" />
<line x1="365.80" y1="356.90" x2="368.60" y2="356.90" stroke="#231f20" stroke-width="0.9" />
<line x1="365.80" y1="362.30" x2="368.60" y2="362.30" stroke="#231f20" stroke-width="0.9" />
<rect x="363.70" y="362.30" width="7.00" height="34.80" fill="#b00a2e" stroke="none" stroke-width="0"/>
<line x1="378.40" y1="355.30" x2="378.40" y2="360.70" stroke="#231f20" stroke-width="0.9" />
<line x1="377.00" y1="355.30" x2="379.80" y2="355.30" stroke="#231f20" stroke-width="0.9" />
<line x1="377.00" y1="360.70" x2="379.80" y2="360.70" stroke="#231f20" stroke-width="0.9" />
<rect x="374.90" y="360.70" width="7.00" height="36.40" fill="#2c4b87" stroke="none" stroke-width="0"/>
<line x1="389.50" y1="355.30" x2="389.50" y2="358.70" stroke="#231f20" stroke-width="0.9" />
<line x1="388.10" y1="355.30" x2="390.90" y2="355.30" stroke="#231f20" stroke-width="0.9" />
<line x1="388.10" y1="358.70" x2="390.90" y2="358.70" stroke="#231f20" stroke-width="0.9" />
<rect x="386.00" y="358.70" width="7.00" height="38.40" fill="#6aaa46" stroke="none" stroke-width="0"/>
<line x1="401.30" y1="339.80" x2="401.30" y2="347.20" stroke="#231f20" stroke-width="0.9" />
<line x1="399.90" y1="339.80" x2="402.70" y2="339.80" stroke="#231f20" stroke-width="0.9" />
<line x1="399.90" y1="347.20" x2="402.70" y2="347.20" stroke="#231f20" stroke-width="0.9" />
<rect x="397.80" y="347.20" width="7.00" height="49.90" fill="#4f2468" stroke="none" stroke-width="0"/>
<polyline points="312.4,309.6 312.4,306.8 346.8,306.8 346.8,309.6" fill="none" stroke="#231f20" stroke-width="1.1"/>
<text x="315.90" y="302.30" font-size="5.8" text-anchor="start" fill="#231f20">p = 0.0259</text>
<polyline points="323.1,324.40000000000003 323.1,321.6 347.4,321.6 347.4,324.40000000000003" fill="none" stroke="#231f20" stroke-width="1.1"/>
<text x="321.50" y="317.10" font-size="5.8" text-anchor="start" fill="#231f20">p = 0.0232</text>
<polyline points="334.7,336.90000000000003 334.7,334.1 346.4,334.1 346.4,336.90000000000003" fill="none" stroke="#231f20" stroke-width="1.1"/>
<text x="326.90" y="329.60" font-size="5.8" text-anchor="start" fill="#231f20">p = 0.0347</text>
<polyline points="366.4,309.6 366.4,306.8 401.8,306.8 401.8,309.6" fill="none" stroke="#231f20" stroke-width="1.1"/>
<text x="370.10" y="302.30" font-size="5.8" text-anchor="start" fill="#231f20">p = 0.0103</text>
<polyline points="377.6,324.40000000000003 377.6,321.6 401.8,321.6 401.8,324.40000000000003" fill="none" stroke="#231f20" stroke-width="1.1"/>
<text x="376.30" y="317.10" font-size="5.8" text-anchor="start" fill="#231f20">p = 0.0181</text>
<polyline points="389.3,336.90000000000003 389.3,334.1 401.4,334.1 401.4,336.90000000000003" fill="none" stroke="#231f20" stroke-width="1.1"/>
<text x="381.90" y="329.60" font-size="5.8" text-anchor="start" fill="#231f20">p = 0.0512</text>
<rect x="306.90" y="419.00" width="6.40" height="2.40" fill="#b00a2e" stroke="none" stroke-width="0"/>
<text x="316.70" y="422.20" font-size="5.4" text-anchor="start" fill="#231f20">Control</text>
<rect x="306.90" y="428.60" width="6.40" height="2.40" fill="#6aaa46" stroke="none" stroke-width="0"/>
<text x="316.70" y="431.80" font-size="5.4" text-anchor="start" fill="#231f20">venetoclax</text>
<rect x="347.40" y="419.30" width="6.40" height="2.40" fill="#2c4b87" stroke="none" stroke-width="0"/>
<text x="356.90" y="422.40" font-size="5.4" text-anchor="start" fill="#231f20">IBL-202</text>
<rect x="347.40" y="428.50" width="6.40" height="2.40" fill="#4f2468" stroke="none" stroke-width="0"/>
<text x="356.90" y="431.80" font-size="5.4" text-anchor="start" fill="#231f20">IBL-202+venetoclax</text>
<line x1="45.50" y1="480.40" x2="45.50" y2="553.40" stroke="#231f20" stroke-width="1.1" />
<line x1="45.00" y1="552.90" x2="152.80" y2="552.90" stroke="#231f20" stroke-width="1.1" />
<line x1="42.50" y1="552.90" x2="45.50" y2="552.90" stroke="#231f20" stroke-width="0.8" />
<text x="39.70" y="555.35" font-size="6.9" text-anchor="end" fill="#231f20">0</text>
<line x1="42.50" y1="529.80" x2="45.50" y2="529.80" stroke="#231f20" stroke-width="0.8" />
<text x="39.70" y="532.25" font-size="6.9" text-anchor="end" fill="#231f20">5</text>
<line x1="42.50" y1="506.70" x2="45.50" y2="506.70" stroke="#231f20" stroke-width="0.8" />
<text x="39.70" y="509.15" font-size="6.9" text-anchor="end" fill="#231f20">10</text>
<line x1="42.50" y1="483.60" x2="45.50" y2="483.60" stroke="#231f20" stroke-width="0.8" />
<text x="39.70" y="486.05" font-size="6.9" text-anchor="end" fill="#231f20">15</text>
<line x1="45.50" y1="552.90" x2="45.50" y2="555.50" stroke="#231f20" stroke-width="0.8" />
<text x="45.50" y="565.10" font-size="6.9" text-anchor="middle" fill="#231f20">0</text>
<line x1="80.35" y1="552.90" x2="80.35" y2="555.50" stroke="#231f20" stroke-width="0.8" />
<text x="80.35" y="565.10" font-size="6.9" text-anchor="middle" fill="#231f20">24</text>
<line x1="115.20" y1="552.90" x2="115.20" y2="555.50" stroke="#231f20" stroke-width="0.8" />
<text x="115.20" y="565.10" font-size="6.9" text-anchor="middle" fill="#231f20">48</text>
<line x1="150.05" y1="552.90" x2="150.05" y2="555.50" stroke="#231f20" stroke-width="0.8" />
<text x="150.05" y="565.10" font-size="6.9" text-anchor="middle" fill="#231f20">72</text>
<text x="99.40" y="576.60" font-size="9.2" text-anchor="middle" fill="#231f20" stroke="#231f20" stroke-width="0.3" textLength="15.3" lengthAdjust="spacingAndGlyphs">Hours</text>
<text x="25.90" y="516.40" font-size="9.0" text-anchor="middle" fill="#231f20" stroke="#231f20" stroke-width="0.2" textLength="52.3" lengthAdjust="spacingAndGlyphs" transform="rotate(-90 25.90 516.40)">Fold change in MFI</text>
<text x="99.40" y="474.80" font-size="8.6" text-anchor="middle" fill="#231f20" textLength="27.3" lengthAdjust="spacingAndGlyphs">Control</text>
<line x1="150.05" y1="495.50" x2="150.05" y2="504.00" stroke="#231f20" stroke-width="0.9" />
<line x1="148.85" y1="495.50" x2="151.25" y2="495.50" stroke="#231f20" stroke-width="0.9" />
<line x1="148.85" y1="504.00" x2="151.25" y2="504.00" stroke="#231f20" stroke-width="0.9" />
<line x1="150.05" y1="504.50" x2="150.05" y2="511.50" stroke="#231f20" stroke-width="0.9" />
<line x1="148.85" y1="504.50" x2="151.25" y2="504.50" stroke="#231f20" stroke-width="0.9" />
<line x1="148.85" y1="511.50" x2="151.25" y2="511.50" stroke="#231f20" stroke-width="0.9" />
<line x1="150.05" y1="511.00" x2="150.05" y2="517.00" stroke="#231f20" stroke-width="0.9" />
<line x1="148.85" y1="511.00" x2="151.25" y2="511.00" stroke="#231f20" stroke-width="0.9" />
<line x1="148.85" y1="517.00" x2="151.25" y2="517.00" stroke="#231f20" stroke-width="0.9" />
<line x1="150.05" y1="519.00" x2="150.05" y2="525.20" stroke="#231f20" stroke-width="0.9" />
<line x1="148.85" y1="519.00" x2="151.25" y2="519.00" stroke="#231f20" stroke-width="0.9" />
<line x1="148.85" y1="525.20" x2="151.25" y2="525.20" stroke="#231f20" stroke-width="0.9" />
<polyline points="45.50,552.90 80.35,543.60 115.20,529.80 150.05,499.80" fill="none" stroke="#c8102e" stroke-width="1.1" stroke-linejoin="round"/>
<polyline points="45.50,552.90 80.35,544.00 115.20,532.40 150.05,508.10" fill="none" stroke="#3a5c9e" stroke-width="1.1" stroke-linejoin="round"/>
<polyline points="45.50,552.90 80.35,544.30 115.20,533.60 150.05,514.20" fill="none" stroke="#6cbf45" stroke-width="1.1" stroke-linejoin="round"/>
<polyline points="45.50,552.90 80.35,544.60 115.20,536.70 150.05,522.50" fill="none" stroke="#5f3480" stroke-width="1.1" stroke-linejoin="round"/>
<circle cx="45.50" cy="552.90" r="1.4" fill="#9070a8" stroke="#5f3480" stroke-width="0.8"/>
<circle cx="80.35" cy="544.60" r="1.4" fill="#9070a8" stroke="#5f3480" stroke-width="0.8"/>
<circle cx="115.20" cy="536.70" r="1.4" fill="#9070a8" stroke="#5f3480" stroke-width="0.8"/>
<circle cx="150.05" cy="522.50" r="1.4" fill="#9070a8" stroke="#5f3480" stroke-width="0.8"/>
<polygon points="45.50,551.55 44.20,553.80 46.80,553.80" fill="#6cbf45" stroke="#6cbf45" stroke-width="0.5" stroke-linejoin="miter"/>
<polygon points="80.35,542.95 79.05,545.20 81.65,545.20" fill="#6cbf45" stroke="#6cbf45" stroke-width="0.5" stroke-linejoin="miter"/>
<polygon points="115.20,532.25 113.90,534.50 116.50,534.50" fill="#6cbf45" stroke="#6cbf45" stroke-width="0.5" stroke-linejoin="miter"/>
<polygon points="150.05,512.85 148.75,515.10 151.35,515.10" fill="#6cbf45" stroke="#6cbf45" stroke-width="0.5" stroke-linejoin="miter"/>
<rect x="44.20" y="551.60" width="2.6" height="2.6" fill="#6f88b8" stroke="#3a5c9e" stroke-width="0.9"/>
<rect x="79.05" y="542.70" width="2.6" height="2.6" fill="#6f88b8" stroke="#3a5c9e" stroke-width="0.9"/>
<rect x="113.90" y="531.10" width="2.6" height="2.6" fill="#6f88b8" stroke="#3a5c9e" stroke-width="0.9"/>
<rect x="148.75" y="506.80" width="2.6" height="2.6" fill="#6f88b8" stroke="#3a5c9e" stroke-width="0.9"/>
<circle cx="45.50" cy="552.90" r="1.3" fill="#c8102e" stroke="#c8102e" stroke-width="0.5"/>
<circle cx="80.35" cy="543.60" r="1.3" fill="#c8102e" stroke="#c8102e" stroke-width="0.5"/>
<circle cx="115.20" cy="529.80" r="1.3" fill="#c8102e" stroke="#c8102e" stroke-width="0.5"/>
<circle cx="150.05" cy="499.80" r="1.3" fill="#c8102e" stroke="#c8102e" stroke-width="0.5"/>
<line x1="35.10" y1="589.20" x2="43.50" y2="589.20" stroke="#c8102e" stroke-width="1.0" />
<circle cx="39.30" cy="589.20" r="1.2" fill="#c8102e" stroke="#c8102e" stroke-width="0.5"/>
<text x="46.80" y="591.10" font-size="5.3" text-anchor="start" fill="#231f20">Untreated</text>
<line x1="100.80" y1="588.90" x2="109.20" y2="588.90" stroke="#3a5c9e" stroke-width="1.0" />
<rect x="103.80" y="587.70" width="2.4" height="2.4" fill="#6f88b8" stroke="#3a5c9e" stroke-width="0.8"/>
<text x="112.50" y="590.80" font-size="5.3" text-anchor="start" fill="#231f20">IBL-202 (0.05&#956;M)</text>
<line x1="35.10" y1="599.50" x2="43.50" y2="599.50" stroke="#6cbf45" stroke-width="1.0" />
<polygon points="39.30,598.25 38.10,600.33 40.50,600.33" fill="#6cbf45" stroke="#6cbf45" stroke-width="0.5" stroke-linejoin="miter"/>
<text x="46.80" y="601.40" font-size="5.3" text-anchor="start" fill="#231f20">venetoclax (0.01&#956;M)</text>
<line x1="100.80" y1="599.70" x2="109.20" y2="599.70" stroke="#5f3480" stroke-width="1.0" />
<circle cx="105.00" cy="599.70" r="1.3" fill="#9070a8" stroke="#5f3480" stroke-width="0.7"/>
<text x="112.50" y="601.60" font-size="5.3" text-anchor="start" fill="#231f20">IBL-202 + venetoclax</text>
<line x1="199.40" y1="480.40" x2="199.40" y2="553.30" stroke="#231f20" stroke-width="1.1" />
<line x1="198.90" y1="552.80" x2="306.70" y2="552.80" stroke="#231f20" stroke-width="1.1" />
<line x1="196.40" y1="552.80" x2="199.40" y2="552.80" stroke="#231f20" stroke-width="0.8" />
<text x="193.60" y="555.25" font-size="6.9" text-anchor="end" fill="#231f20">0</text>
<line x1="196.40" y1="529.70" x2="199.40" y2="529.70" stroke="#231f20" stroke-width="0.8" />
<text x="193.60" y="532.15" font-size="6.9" text-anchor="end" fill="#231f20">5</text>
<line x1="196.40" y1="506.60" x2="199.40" y2="506.60" stroke="#231f20" stroke-width="0.8" />
<text x="193.60" y="509.05" font-size="6.9" text-anchor="end" fill="#231f20">10</text>
<line x1="196.40" y1="483.50" x2="199.40" y2="483.50" stroke="#231f20" stroke-width="0.8" />
<text x="193.60" y="485.95" font-size="6.9" text-anchor="end" fill="#231f20">15</text>
<line x1="199.40" y1="552.80" x2="199.40" y2="555.40" stroke="#231f20" stroke-width="0.8" />
<text x="199.40" y="565.10" font-size="6.9" text-anchor="middle" fill="#231f20">0</text>
<line x1="234.25" y1="552.80" x2="234.25" y2="555.40" stroke="#231f20" stroke-width="0.8" />
<text x="234.25" y="565.10" font-size="6.9" text-anchor="middle" fill="#231f20">24</text>
<line x1="269.10" y1="552.80" x2="269.10" y2="555.40" stroke="#231f20" stroke-width="0.8" />
<text x="269.10" y="565.10" font-size="6.9" text-anchor="middle" fill="#231f20">48</text>
<line x1="303.95" y1="552.80" x2="303.95" y2="555.40" stroke="#231f20" stroke-width="0.8" />
<text x="303.95" y="565.10" font-size="6.9" text-anchor="middle" fill="#231f20">72</text>
<text x="253.30" y="576.60" font-size="9.2" text-anchor="middle" fill="#231f20" stroke="#231f20" stroke-width="0.3" textLength="15.3" lengthAdjust="spacingAndGlyphs">Hours</text>
<text x="179.80" y="516.40" font-size="9.0" text-anchor="middle" fill="#231f20" stroke="#231f20" stroke-width="0.2" textLength="52.3" lengthAdjust="spacingAndGlyphs" transform="rotate(-90 179.80 516.40)">Fold change in MFI</text>
<text x="253.80" y="474.80" font-size="8.6" text-anchor="middle" fill="#231f20"><tspan font-style="italic">TP53</tspan>-ko</text>
<line x1="303.95" y1="503.70" x2="303.95" y2="508.00" stroke="#231f20" stroke-width="0.9" />
<line x1="302.75" y1="503.70" x2="305.15" y2="503.70" stroke="#231f20" stroke-width="0.9" />
<line x1="302.75" y1="508.00" x2="305.15" y2="508.00" stroke="#231f20" stroke-width="0.9" />
<line x1="303.95" y1="506.00" x2="303.95" y2="514.00" stroke="#231f20" stroke-width="0.9" />
<line x1="302.75" y1="506.00" x2="305.15" y2="506.00" stroke="#231f20" stroke-width="0.9" />
<line x1="302.75" y1="514.00" x2="305.15" y2="514.00" stroke="#231f20" stroke-width="0.9" />
<line x1="303.95" y1="512.00" x2="303.95" y2="520.00" stroke="#231f20" stroke-width="0.9" />
<line x1="302.75" y1="512.00" x2="305.15" y2="512.00" stroke="#231f20" stroke-width="0.9" />
<line x1="302.75" y1="520.00" x2="305.15" y2="520.00" stroke="#231f20" stroke-width="0.9" />
<line x1="303.95" y1="523.00" x2="303.95" y2="532.10" stroke="#231f20" stroke-width="0.9" />
<line x1="302.75" y1="523.00" x2="305.15" y2="523.00" stroke="#231f20" stroke-width="0.9" />
<line x1="302.75" y1="532.10" x2="305.15" y2="532.10" stroke="#231f20" stroke-width="0.9" />
<polyline points="199.40,552.80 234.25,543.30 269.10,529.60 303.95,506.00" fill="none" stroke="#c8102e" stroke-width="1.1" stroke-linejoin="round"/>
<polyline points="199.40,552.80 234.25,543.80 269.10,531.00 303.95,510.20" fill="none" stroke="#3a5c9e" stroke-width="1.1" stroke-linejoin="round"/>
<polyline points="199.40,552.80 234.25,543.80 269.10,531.00 303.95,516.10" fill="none" stroke="#6cbf45" stroke-width="1.1" stroke-linejoin="round"/>
<polyline points="199.40,552.80 234.25,544.20 269.10,536.80 303.95,527.50" fill="none" stroke="#5f3480" stroke-width="1.1" stroke-linejoin="round"/>
<circle cx="199.40" cy="552.80" r="1.4" fill="#9070a8" stroke="#5f3480" stroke-width="0.8"/>
<circle cx="234.25" cy="544.20" r="1.4" fill="#9070a8" stroke="#5f3480" stroke-width="0.8"/>
<circle cx="269.10" cy="536.80" r="1.4" fill="#9070a8" stroke="#5f3480" stroke-width="0.8"/>
<circle cx="303.95" cy="527.50" r="1.4" fill="#9070a8" stroke="#5f3480" stroke-width="0.8"/>
<polygon points="199.40,551.45 198.10,553.70 200.70,553.70" fill="#6cbf45" stroke="#6cbf45" stroke-width="0.5" stroke-linejoin="miter"/>
<polygon points="234.25,542.45 232.95,544.70 235.55,544.70" fill="#6cbf45" stroke="#6cbf45" stroke-width="0.5" stroke-linejoin="miter"/>
<polygon points="269.10,529.65 267.80,531.90 270.40,531.90" fill="#6cbf45" stroke="#6cbf45" stroke-width="0.5" stroke-linejoin="miter"/>
<polygon points="303.95,514.75 302.65,517.00 305.25,517.00" fill="#6cbf45" stroke="#6cbf45" stroke-width="0.5" stroke-linejoin="miter"/>
<rect x="198.10" y="551.50" width="2.6" height="2.6" fill="#6f88b8" stroke="#3a5c9e" stroke-width="0.9"/>
<rect x="232.95" y="542.50" width="2.6" height="2.6" fill="#6f88b8" stroke="#3a5c9e" stroke-width="0.9"/>
<rect x="267.80" y="529.70" width="2.6" height="2.6" fill="#6f88b8" stroke="#3a5c9e" stroke-width="0.9"/>
<rect x="302.65" y="508.90" width="2.6" height="2.6" fill="#6f88b8" stroke="#3a5c9e" stroke-width="0.9"/>
<circle cx="199.40" cy="552.80" r="1.3" fill="#c8102e" stroke="#c8102e" stroke-width="0.5"/>
<circle cx="234.25" cy="543.30" r="1.3" fill="#c8102e" stroke="#c8102e" stroke-width="0.5"/>
<circle cx="269.10" cy="529.60" r="1.3" fill="#c8102e" stroke="#c8102e" stroke-width="0.5"/>
<circle cx="303.95" cy="506.00" r="1.3" fill="#c8102e" stroke="#c8102e" stroke-width="0.5"/>
<line x1="189.00" y1="588.80" x2="197.40" y2="588.80" stroke="#c8102e" stroke-width="1.0" />
<circle cx="193.20" cy="588.80" r="1.2" fill="#c8102e" stroke="#c8102e" stroke-width="0.5"/>
<text x="200.70" y="590.70" font-size="5.3" text-anchor="start" fill="#231f20">Untreated</text>
<line x1="255.80" y1="588.80" x2="264.20" y2="588.80" stroke="#3a5c9e" stroke-width="1.0" />
<rect x="258.80" y="587.60" width="2.4" height="2.4" fill="#6f88b8" stroke="#3a5c9e" stroke-width="0.8"/>
<text x="267.50" y="590.70" font-size="5.3" text-anchor="start" fill="#231f20">IBL-202 (0.3&#956;M)</text>
<line x1="189.00" y1="599.00" x2="197.40" y2="599.00" stroke="#6cbf45" stroke-width="1.0" />
<polygon points="193.20,597.75 192.00,599.83 194.40,599.83" fill="#6cbf45" stroke="#6cbf45" stroke-width="0.5" stroke-linejoin="miter"/>
<text x="200.70" y="600.90" font-size="5.3" text-anchor="start" fill="#231f20">venetoclax (3&#956;M)</text>
<line x1="255.80" y1="599.00" x2="264.20" y2="599.00" stroke="#5f3480" stroke-width="1.0" />
<circle cx="260.00" cy="599.00" r="1.3" fill="#9070a8" stroke="#5f3480" stroke-width="0.7"/>
<text x="267.50" y="600.90" font-size="5.3" text-anchor="start" fill="#231f20">IBL-202 + venetoclax</text>
</svg>
</body></html>
